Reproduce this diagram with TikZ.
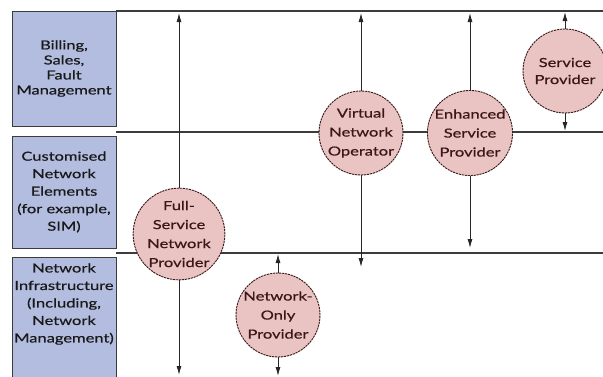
\documentclass[tikz,border=0pt]{standalone}
\usepackage{fontspec}
\setmainfont{Lato}[FakeStretch=1.32, FakeBold=0.5]
\usetikzlibrary{arrows.meta}
\definecolor{layerfill}{HTML}{B3BDE0}
\definecolor{actorfill}{HTML}{EAC3C3}
\definecolor{actortext}{HTML}{3A1616}
\definecolor{rulegrey}{HTML}{3C3C3C}
\tikzset{
  layer/.style={draw=rulegrey, line width=1pt, fill=layerfill, minimum width=104pt,
    inner sep=0pt, align=center, text=black!90, font=\fontsize{12.5}{15}\selectfont},
  layertext/.style={align=center, inner sep=0pt, text=black!90,
    font=\fontsize{12.5}{17.5}\selectfont},
  actor/.style={circle, draw=actortext, line width=0.9pt,
    dash pattern=on 2.2pt off 0.8pt, fill=actorfill, minimum size=84pt, inner sep=0pt,
    align=center, text=actortext, font=\fontsize{12.5}{19}\selectfont},
  divider/.style={draw=rulegrey, line width=1.2pt},
  link/.style={draw=black!85, line width=0.9pt, -{Latex[length=9pt,width=5pt]}}
}
\begin{document}
\begin{tikzpicture}[x=1pt, y=-1pt]
  \useasboundingbox (0,0) rectangle (603,376);
  \clip (0,0) rectangle (603,376);

  % horizontal layer dividers
  \coordinate (d1a) at (116,11);  \coordinate (d1b) at (603,11);
  \coordinate (d2a) at (116,132); \coordinate (d2b) at (603,132);
  \coordinate (d3a) at (116,253); \coordinate (d3b) at (603,253);
  \draw[divider] (d1a) -- (d1b);
  \draw[divider] (d2a) -- (d2b);
  \draw[divider] (d3a) -- (d3b);

  % layer labels on the left
  \node[layer, minimum height=115pt] (billing) at (64,68.5)
    {Billing,\\Sales,\\Fault\\Management};
  \node[layer, minimum height=112pt, font=\fontsize{12.5}{17.5}\selectfont] (custom) at (64,192)
    {Customised\\Network\\Elements\\(for example,\\SIM)};
  \node[layer, minimum height=130pt] (infra) at (64,322) {};
  \node[layertext] (infratext) at (64,304)
    {Network\\Infrastructure\\(Including,\\Network\\Management)};

  % market actors
  \node[actor] (fsnp) at (179,234) {Full-\\Service\\Network\\Provider};
  \node[actor] (nop)  at (278,315) {Network-\\Only\\Provider};
  \node[actor] (vno)  at (361,133) {Virtual\\Network\\Operator};
  \node[actor] (esp)  at (470,133) {Enhanced\\Service\\Provider};
  \node[actor, font=\fontsize{12.5}{17}\selectfont] (sp) at (565,71) {Service\\Provider};

  % arrow end points
  \coordinate (fsnpT) at (179,13);  \coordinate (fsnpB) at (179,375);
  \coordinate (nopT)  at (278,254); \coordinate (nopB)  at (278,376);
  \coordinate (vnoT)  at (361,13);  \coordinate (vnoB)  at (361,267);
  \coordinate (espT)  at (470,13);  \coordinate (espB)  at (470,248);
  \coordinate (spT)   at (565,12);  \coordinate (spB)   at (565,131);

  \draw[link] (fsnp.north) -- (fsnpT);
  \draw[link] (fsnp.south) -- (fsnpB);
  \draw[link] (nop.north) -- (nopT);
  \draw[link] (nop.south) -- (nopB);
  \draw[link] (vno.north) -- (vnoT);
  \draw[link] (vno.south) -- (vnoB);
  \draw[link] (esp.north) -- (espT);
  \draw[link] (esp.south) -- (espB);
  \draw[link] (sp.north) -- (spT);
  \draw[link] (sp.south) -- (spB);
\end{tikzpicture}
\end{document}
